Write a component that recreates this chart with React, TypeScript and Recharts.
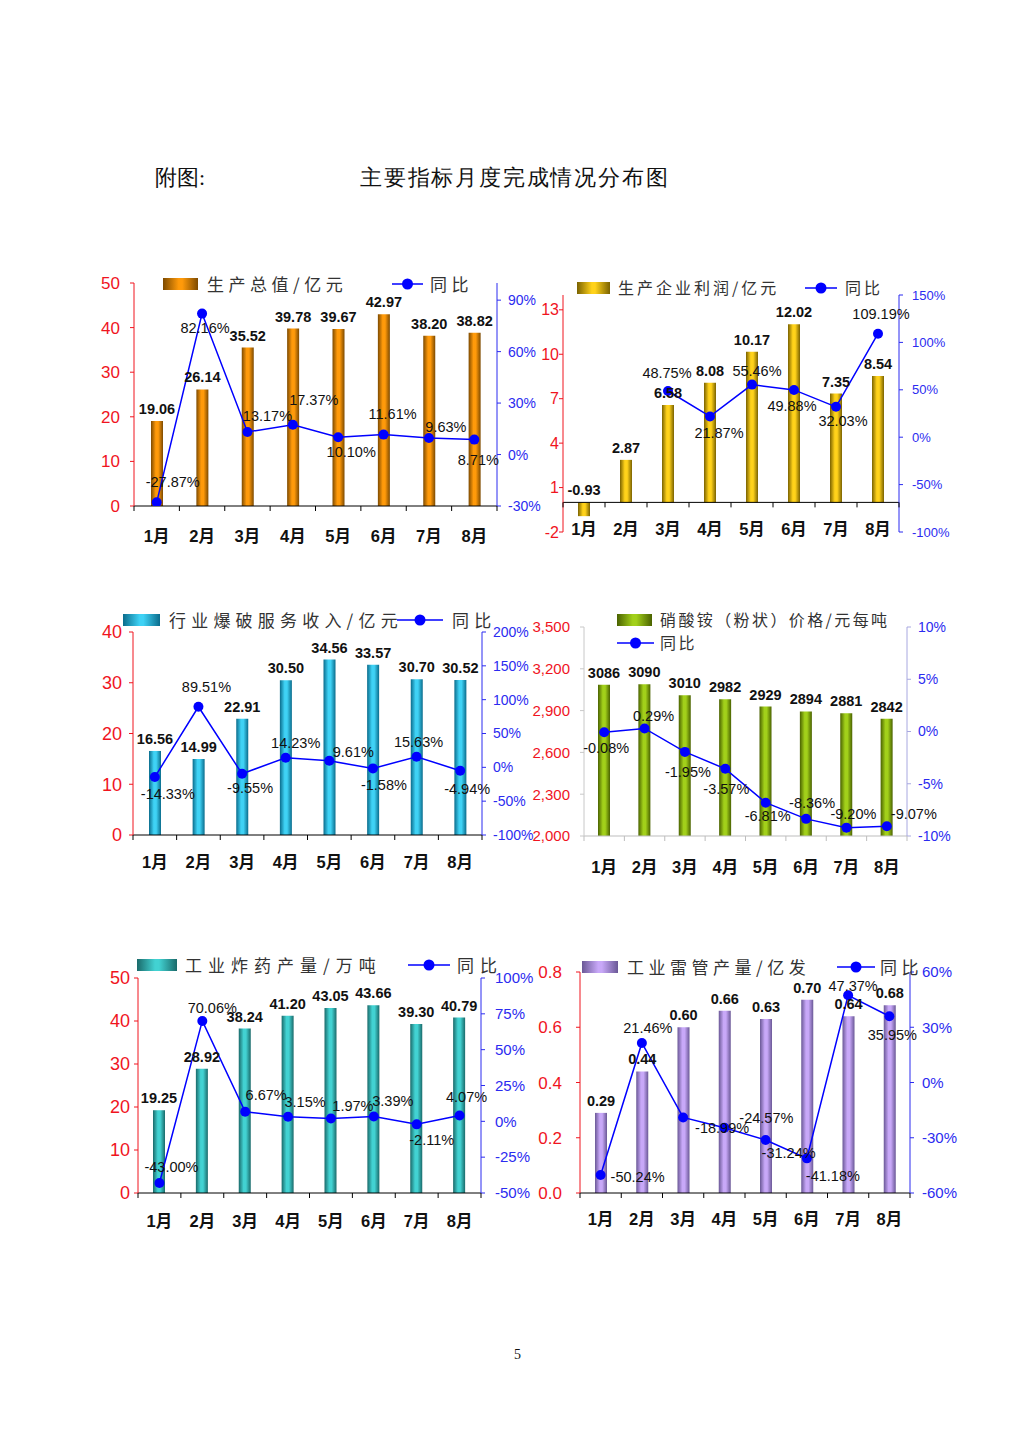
import React from 'react';
import { ComposedChart, Bar, Line, XAxis, YAxis, LabelList, ReferenceLine } from 'recharts';

// months on the category axis
const months = ['1月', '2月', '3月', '4月', '5月', '6月', '7月', '8月'];

// 生产总值 / 亿元
const outputValue = [19.06, 26.14, 35.52, 39.78, 39.67, 42.97, 38.2, 38.82];
const outputYoy = [-27.87, 82.16, 13.17, 17.37, 10.1, 11.61, 9.63, 8.71];

// 生产企业利润 / 亿元
const profitValue = [-0.93, 2.87, 6.58, 8.08, 10.17, 12.02, 7.35, 8.54];
const profitYoy = [null, null, 48.75, 21.87, 55.46, 49.88, 32.03, 109.19];

// 行业爆破服务收入 / 亿元
const blastingValue = [16.56, 14.99, 22.91, 30.5, 34.56, 33.57, 30.7, 30.52];
const blastingYoy = [-14.33, 89.51, -9.55, 14.23, 9.61, -1.58, 15.63, -4.94];

// 硝酸铵（粉状）价格 / 元每吨
const anPrice = [3086, 3090, 3010, 2982, 2929, 2894, 2881, 2842];
const anPriceYoy = [-0.08, 0.29, -1.95, -3.57, -6.81, -8.36, -9.2, -9.07];

// 工业炸药产量 / 万吨
const explosiveValue = [19.25, 28.92, 38.24, 41.2, 43.05, 43.66, 39.3, 40.79];
const explosiveYoy = [-43.0, 70.06, 6.67, 3.15, 1.97, 3.39, -2.11, 4.07];

// 工业雷管产量 / 亿发
const detonatorValue = [0.29, 0.44, 0.6, 0.66, 0.63, 0.7, 0.64, 0.68];
const detonatorYoy = [-50.24, 21.46, -18.99, -24.57, -31.24, -41.18, 47.37, 35.95];

// axis ticks
const ticks1L = [0, 10, 20, 30, 40, 50];
const ticks1R = [-30, 0, 30, 60, 90];
const ticks2L = [-2, 1, 4, 7, 10, 13];
const ticks2R = [-100, -50, 0, 50, 100, 150];
const ticks3L = [0, 10, 20, 30, 40];
const ticks3R = [-100, -50, 0, 50, 100, 150, 200];
const ticks4L = [2000, 2300, 2600, 2900, 3200, 3500];
const ticks4R = [-10, -5, 0, 5, 10];
const ticks5L = [0, 10, 20, 30, 40, 50];
const ticks5R = [-50, -25, 0, 25, 50, 75, 100];
const ticks6L = [0, 0.2, 0.4, 0.6, 0.8];
const ticks6R = [-60, -30, 0, 30, 60];

const AX = 90;
const TOPM = 40;
const BOTM = 50;
const NUM_FONT = '"Liberation Sans", Arial, "Noto Sans CJK SC", sans-serif';
const CJK_FONT = '"Noto Sans CJK SC", "Liberation Sans", sans-serif';
const RED = '#f0141e';
const BLUE = '#2b2bf0';

const gradStops = (edge: string, mid: string) => [
  { o: '0%', c: edge },
  { o: '40%', c: mid },
  { o: '60%', c: mid },
  { o: '100%', c: edge },
];

const Panel = (p: any) => {
  const plotW = p.x1 - p.x0;
  const plotH = p.yBottom - p.yTop;
  const W = plotW + AX * 2;
  const H = plotH + TOPM + BOTM;
  const data = months.map((m, i) => ({ m, v: p.values[i], r: p.yoy[i] }));
  const step = plotW / months.length;
  const [lo, hi] = p.leftDomain;
  const plotBottom = TOPM + plotH;
  const axisY = plotBottom - (plotH * (p.base - lo)) / (hi - lo);
  const catAxis = p.catAxisColor || '#000';

  const CatTick = (t: any) => {
    const { x, payload, index } = t;
    return (
      <g>
        <line x1={x - step / 2} x2={x - step / 2} y1={axisY} y2={axisY + 5} stroke={catAxis} />
        {index === months.length - 1 && (
          <line x1={x + step / 2} x2={x + step / 2} y1={axisY} y2={axisY + 5} stroke={catAxis} />
        )}
        <text
          x={x}
          y={plotBottom + (p.catY - p.yBottom)}
          textAnchor="middle"
          dominantBaseline="central"
          fontSize={16.5}
          fontWeight="bold"
          fontFamily={NUM_FONT}
          fill="#111"
        >
          {payload.value}
        </text>
      </g>
    );
  };

  const ValueLabel = (l: any) => {
    const { x, y, width, height, value } = l;
    const top = Math.min(y, y + height);
    return (
      <text
        x={x + width / 2}
        y={top - 12}
        textAnchor="middle"
        dominantBaseline="central"
        fontSize={14.5}
        fontWeight="bold"
        fontFamily={NUM_FONT}
        fill="#111"
      >
        {p.valueFmt(value)}
      </text>
    );
  };

  const PctLabel = (l: any) => {
    const { x, y, value, index } = l;
    if (value === null || value === undefined) return null;
    const [dx, dy] = p.pctOffsets[index];
    return (
      <text
        x={x + dx}
        y={y + dy}
        textAnchor="middle"
        dominantBaseline="central"
        fontSize={14.5}
        fontFamily={NUM_FONT}
        fill="#111"
      >
        {Number(value).toFixed(2)}%
      </text>
    );
  };

  const lg = p.legend;
  const legendText = {
    position: 'absolute' as const,
    fontFamily: CJK_FONT,
    fontSize: lg.fs,
    letterSpacing: lg.ls,
    color: '#333',
    lineHeight: `${lg.fs}px`,
    whiteSpace: 'nowrap' as const,
  };

  return (
    <>
      <div style={{ position: 'absolute', left: p.x0 - AX, top: p.yTop - TOPM }}>
        <ComposedChart width={W} height={H} data={data} margin={{ top: TOPM, right: 0, bottom: 0, left: 0 }}>
          <defs>
            <linearGradient id={p.id} x1="0" y1="0" x2="1" y2="0">
              {gradStops(p.edge, p.mid).map((s) => (
                <stop key={s.o} offset={s.o} stopColor={s.c} />
              ))}
            </linearGradient>
          </defs>
          <XAxis dataKey="m" height={BOTM} axisLine={false} tickLine={false} interval={0} tick={CatTick} />
          <YAxis
            yAxisId="left"
            width={AX}
            domain={p.leftDomain}
            ticks={p.leftTicks}
            allowDataOverflow
            stroke={p.leftAxisColor || RED}
            tickSize={4}
            tickMargin={p.leftGap - 4}
            tickFormatter={p.leftFmt}
            tick={{ fill: RED, fontSize: p.leftFs, fontFamily: NUM_FONT }}
          />
          <YAxis
            yAxisId="right"
            orientation="right"
            width={AX}
            domain={p.rightDomain}
            ticks={p.rightTicks}
            allowDataOverflow
            stroke={p.rightAxisColor || BLUE}
            tickSize={4}
            tickMargin={p.rightGap - 4}
            tickFormatter={(v: number) => `${v}%`}
            tick={{ fill: BLUE, fontSize: p.rightFs, fontFamily: NUM_FONT }}
          />
          <Bar yAxisId="left" dataKey="v" barSize={12} fill={`url(#${p.id})`} isAnimationActive={false}>
            <LabelList dataKey="v" content={ValueLabel} />
          </Bar>
          <ReferenceLine yAxisId="left" y={p.base} stroke={catAxis} strokeWidth={1} />
          <Line
            yAxisId="right"
            type="linear"
            dataKey="r"
            stroke="#0000ff"
            strokeWidth={1.5}
            dot={{ r: 5, fill: '#0000ff', stroke: '#0000ff', strokeWidth: 0 }}
            activeDot={false}
            isAnimationActive={false}
          >
            <LabelList dataKey="r" content={PctLabel} />
          </Line>
        </ComposedChart>
      </div>
      <div
        style={{
          position: 'absolute',
          left: lg.sx,
          top: lg.sy - 6,
          width: lg.sw,
          height: 12,
          background: `linear-gradient(to right, ${p.edge}, ${p.mid} 45%, ${p.mid} 55%, ${p.edge})`,
        }}
      />
      <div style={{ ...legendText, left: lg.tx, top: lg.sy - lg.fs / 2 - 1 }}>{lg.label}</div>
      <svg
        style={{ position: 'absolute', left: lg.lx, top: lg.ly - 8 }}
        width={lg.lw}
        height={16}
      >
        <line x1={0} x2={lg.lw} y1={8} y2={8} stroke="#0000ff" strokeWidth={1.5} />
        <circle cx={lg.lw / 2} cy={8} r={5.5} fill="#0000ff" />
      </svg>
      <div style={{ ...legendText, left: lg.l2x, top: lg.ly - lg.fs / 2 - 1 }}>同比</div>
    </>
  );
};

const fix2 = (v: number) => Number(v).toFixed(2);

const App = () => (
  <div
    style={{
      position: 'absolute',
      left: 0,
      top: 0,
      width: 1024,
      height: 1448,
      background: '#fff',
      fontFamily: 'serif',
    }}
  >
    <div style={{ position: 'absolute', left: 155, top: 166, fontSize: 22, lineHeight: '24px', color: '#111' }}>
      附图:
    </div>
    <div
      style={{
        position: 'absolute',
        left: 360,
        top: 166,
        fontSize: 22,
        lineHeight: '24px',
        letterSpacing: 1.8,
        color: '#111',
      }}
    >
      主要指标月度完成情况分布图
    </div>

    <Panel
      id="g1"
      x0={134}
      x1={497}
      yTop={283}
      yBottom={506}
      values={outputValue}
      yoy={outputYoy}
      leftDomain={[0, 50]}
      leftTicks={ticks1L}
      rightDomain={[-30, 100]}
      rightTicks={ticks1R}
      base={0}
      catY={536}
      leftGap={14}
      rightGap={11}
      leftFs={17}
      rightFs={14}
      edge="#7d4a00"
      mid="#ff9a0a"
      valueFmt={fix2}
      pctOffsets={[[16, -20], [3, 14], [20, -16], [21, -25], [13, 15], [9, -21], [17, -11], [4, 20]]}
      legend={{ sx: 163, sy: 284, sw: 35, tx: 207, lx: 392, ly: 284, lw: 31, l2x: 430, label: '生产总值/亿元', fs: 17, ls: 4.5 }}
    />

    <Panel
      id="g2"
      x0={563}
      x1={899}
      yTop={295}
      yBottom={532}
      values={profitValue}
      yoy={profitYoy}
      leftDomain={[-2, 14]}
      leftTicks={ticks2L}
      rightDomain={[-100, 150]}
      rightTicks={ticks2R}
      base={0}
      catY={529}
      leftGap={4}
      rightGap={13}
      leftFs={16}
      rightFs={13}
      edge="#7a6200"
      mid="#ffd21a"
      valueFmt={fix2}
      pctOffsets={[[0, 0], [0, 0], [-1, -18], [9, 17], [5, -14], [-2, 16], [7, 14], [3, -20]]}
      legend={{ sx: 577, sy: 288, sw: 33, tx: 618, lx: 805, ly: 288, lw: 32, l2x: 845, label: '生产企业利润/亿元', fs: 16, ls: 3 }}
    />

    <Panel
      id="g3"
      x0={133}
      x1={482}
      yTop={632}
      yBottom={835}
      values={blastingValue}
      yoy={blastingYoy}
      leftDomain={[0, 40]}
      leftTicks={ticks3L}
      rightDomain={[-100, 200]}
      rightTicks={ticks3R}
      base={0}
      catY={862}
      leftGap={11}
      rightGap={11}
      leftFs={18}
      rightFs={14}
      edge="#0a6c8c"
      mid="#3fd2f5"
      valueFmt={fix2}
      pctOffsets={[[13, 17], [8, -20], [8, 14], [10, -15], [24, -9], [11, 17], [2, -15], [7, 18]]}
      legend={{ sx: 123, sy: 620, sw: 37, tx: 169, lx: 397, ly: 620, lw: 46, l2x: 452, label: '行业爆破服务收入/亿元', fs: 17, ls: 5.2 }}
    />

    <Panel
      id="g4"
      x0={584}
      x1={907}
      yTop={627}
      yBottom={836}
      values={anPrice}
      yoy={anPriceYoy}
      leftDomain={[2000, 3500]}
      leftTicks={ticks4L}
      rightDomain={[-10, 10]}
      rightTicks={ticks4R}
      base={2000}
      catY={867}
      leftGap={14}
      rightGap={11}
      leftFs={15}
      rightFs={14}
      leftAxisColor="#c8c8c8"
      rightAxisColor="#a8a8e0"
      catAxisColor="#bdbdbd"
      edge="#4a6200"
      mid="#a2d01a"
      leftFmt={(v: number) => v.toLocaleString('en-US')}
      valueFmt={(v: number) => String(v)}
      pctOffsets={[[2, 16], [9, -12], [3, 20], [1, 20], [2, 13], [6, -16], [7, -14], [27, -12]]}
      legend={{ sx: 617, sy: 620, sw: 35, tx: 660, lx: 617, ly: 643, lw: 37, l2x: 660, label: '硝酸铵（粉状）价格/元每吨', fs: 16, ls: 2.4 }}
    />

    <Panel
      id="g5"
      x0={138}
      x1={481}
      yTop={978}
      yBottom={1193}
      values={explosiveValue}
      yoy={explosiveYoy}
      leftDomain={[0, 50]}
      leftTicks={ticks5L}
      rightDomain={[-50, 100]}
      rightTicks={ticks5R}
      base={0}
      catY={1221}
      leftGap={8}
      rightGap={14}
      leftFs={18}
      rightFs={15}
      edge="#1a6a6a"
      mid="#42d2d2"
      valueFmt={fix2}
      pctOffsets={[[12, -16], [10, -13], [21, -17], [17, -15], [22, -13], [19, -15], [15, 16], [7, -18]]}
      legend={{ sx: 137, sy: 965, sw: 40, tx: 185, lx: 408, ly: 965, lw: 42, l2x: 457, label: '工业炸药产量/万吨', fs: 17, ls: 6 }}
    />

    <Panel
      id="g6"
      x0={580}
      x1={910}
      yTop={972}
      yBottom={1193}
      values={detonatorValue}
      yoy={detonatorYoy}
      leftDomain={[0, 0.8]}
      leftTicks={ticks6L}
      rightDomain={[-60, 60]}
      rightTicks={ticks6R}
      base={0}
      catY={1219}
      leftGap={18}
      rightGap={12}
      leftFs={17}
      rightFs={15}
      edge="#6a5896"
      mid="#c8a8f8"
      leftFmt={(v: number) => v.toFixed(1)}
      valueFmt={fix2}
      pctOffsets={[[37, 2], [6, -15], [39, 11], [42, -10], [23, 13], [26, 18], [5, -9], [3, 19]]}
      legend={{ sx: 582, sy: 967, sw: 36, tx: 627, lx: 837, ly: 967, lw: 38, l2x: 880, label: '工业雷管产量/亿发', fs: 17, ls: 4.5 }}
    />

    <div style={{ position: 'absolute', left: 514, top: 1346, fontSize: 14, lineHeight: '18px', color: '#111' }}>5</div>
  </div>
);

export default App;
